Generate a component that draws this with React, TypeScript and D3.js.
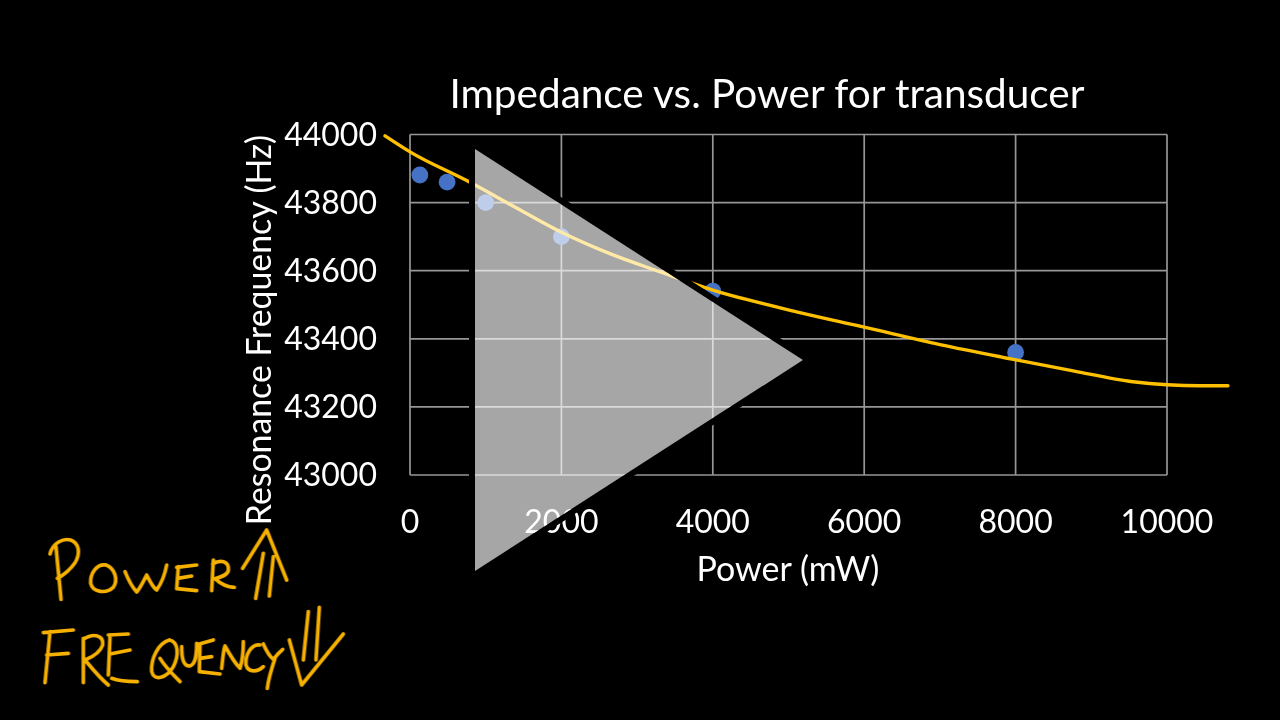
import React from "react";
import * as d3 from "d3";

const powerTicks = [0, 2000, 4000, 6000, 8000, 10000];
const freqTicks = [43000, 43200, 43400, 43600, 43800, 44000];
const pointPower = [130, 490, 1000, 2000, 4000, 8000];
const pointFreq = [43881, 43860, 43800, 43700, 43540, 43360];
const trendPower = [-330, 0, 780, 1360, 1980, 2640, 3300, 3990, 5150, 5985, 7000, 7990, 8760, 9550, 10000, 10436, 10805];
const trendFreq = [43996, 43949, 43861, 43790, 43715, 43650, 43597, 43544, 43477, 43435, 43383, 43339, 43306, 43274, 43265, 43262, 43262];

const title = "Impedance vs. Power for transducer";
const xTitle = "Power (mW)";
const yTitle = "Resonance Frequency (Hz)";

const handwriting = [
  "M183 298C178 240 172 190 168 140",
  "M150 162C158 128 190 114 212 120C238 130 242 160 225 188C210 210 190 225 172 235",
  "M318 195C290 190 270 220 272 250C278 278 320 282 340 262C355 240 345 205 318 195",
  "M375 215C385 240 397 262 410 276C422 262 432 240 440 225C450 245 458 262 470 270C484 250 495 222 500 195",
  "M530 202L590 195M535 200L530 266M533 235L575 228M530 266L590 272",
  "M640 180L635 272M638 192C660 178 688 182 685 212C680 228 660 232 645 236C660 250 680 262 703 262",
  "M728 205L800 90L860 240M790 160L767 295M820 170L808 288",
  "M130 398L220 390M150 395L135 548M140 465L205 460",
  "M250 415L250 548M250 418C280 398 312 405 308 435C300 460 275 472 255 480C280 510 300 535 325 555",
  "M325 405L385 402M330 410L325 525M330 462L390 450M335 535C360 545 385 545 412 545",
  "M508 420C475 430 452 475 455 515C462 545 500 535 520 500C538 465 535 425 508 420M480 475C495 500 520 525 540 545",
  "M545 440C545 475 550 500 570 498C590 492 590 455 590 430",
  "M598 432L640 420M600 432L598 515M600 475L635 470M598 515L660 522",
  "M665 505C668 480 670 450 675 438C690 465 705 490 720 505C728 480 730 450 730 425",
  "M780 435C755 430 735 465 738 495C745 520 775 515 790 500",
  "M790 432C800 455 810 470 820 478C830 465 840 455 848 448M825 475C815 505 805 535 802 565",
  "M868 420L905 555L1030 402M925 335L910 480M958 322L948 480",
];

const triangle = "475,149 803,360 475,571";

export default function App() {
  const x = d3.scaleLinear().domain([0, 10000]).range([410, 1167]);
  const y = d3.scaleLinear().domain([43000, 44000]).range([475, 134.5]);
  const line = d3
    .line<number>()
    .x((d) => x(d))
    .y((_, i) => y(trendFreq[i]))
    .curve(d3.curveMonotoneX);
  const font = "Lato, 'Open Sans', sans-serif";
  return (
    <svg
      width={1280}
      height={720}
      viewBox="0 0 1280 720"
      style={{ position: "fixed", left: 0, top: 0, display: "block" }}
    >
      <defs>
        <filter id="soft" x="-5%" y="-5%" width="110%" height="110%">
          <feGaussianBlur stdDeviation="0.55" />
        </filter>
        <mask id="outside" maskUnits="userSpaceOnUse" x="0" y="0" width="1280" height="720">
          <rect width={1280} height={720} fill="#fff" />
          <polygon points={triangle} fill="#000" />
        </mask>
      </defs>
      <rect width={1280} height={720} fill="#000" />
      <g filter="url(#soft)">
        <g stroke="#969696" strokeWidth={1.7} fill="none">
          {powerTicks.map((t) => (
            <line key={t} x1={x(t)} x2={x(t)} y1={y(44000)} y2={y(43000)} />
          ))}
          {freqTicks.map((t) => (
            <line key={t} x1={x(0)} x2={x(10000)} y1={y(t)} y2={y(t)} />
          ))}
        </g>
        {pointPower.map((p, i) => (
          <circle key={p} cx={x(p)} cy={y(pointFreq[i])} r={8.4} fill="#4472C4" />
        ))}
        <path d={line(trendPower) ?? ""} fill="none" stroke="#FFC000" strokeWidth={3.4} strokeLinecap="round" />
        <g fill="#fff" fontFamily={font}>
          <text x={767} y={108} textAnchor="middle" fontSize={40.5}>{title}</text>
          {freqTicks.map((t) => (
            <text key={t} x={377} y={y(t) + 11} textAnchor="end" fontSize={32}>{t}</text>
          ))}
          {powerTicks.map((t) => (
            <text key={t} x={x(t)} y={533} textAnchor="middle" fontSize={32}>{t}</text>
          ))}
          <text x={788} y={581} textAnchor="middle" fontSize={34}>{xTitle}</text>
          <text transform="translate(271,330) rotate(-90)" textAnchor="middle" fontSize={33.8}>{yTitle}</text>
        </g>
        <g
          transform="translate(0,500) scale(0.3333)"
          fill="none"
          stroke="#F5B000"
          strokeWidth={11}
          strokeLinecap="round"
          strokeLinejoin="round"
        >
          {handwriting.map((d) => (
            <path key={d} d={d} />
          ))}
        </g>
      </g>
      <polygon points={triangle} fill="none" stroke="#000" strokeWidth={12} strokeLinejoin="miter" mask="url(#outside)" />
      <polygon points={triangle} fill="#fff" fillOpacity={0.65} />
    </svg>
  );
}
